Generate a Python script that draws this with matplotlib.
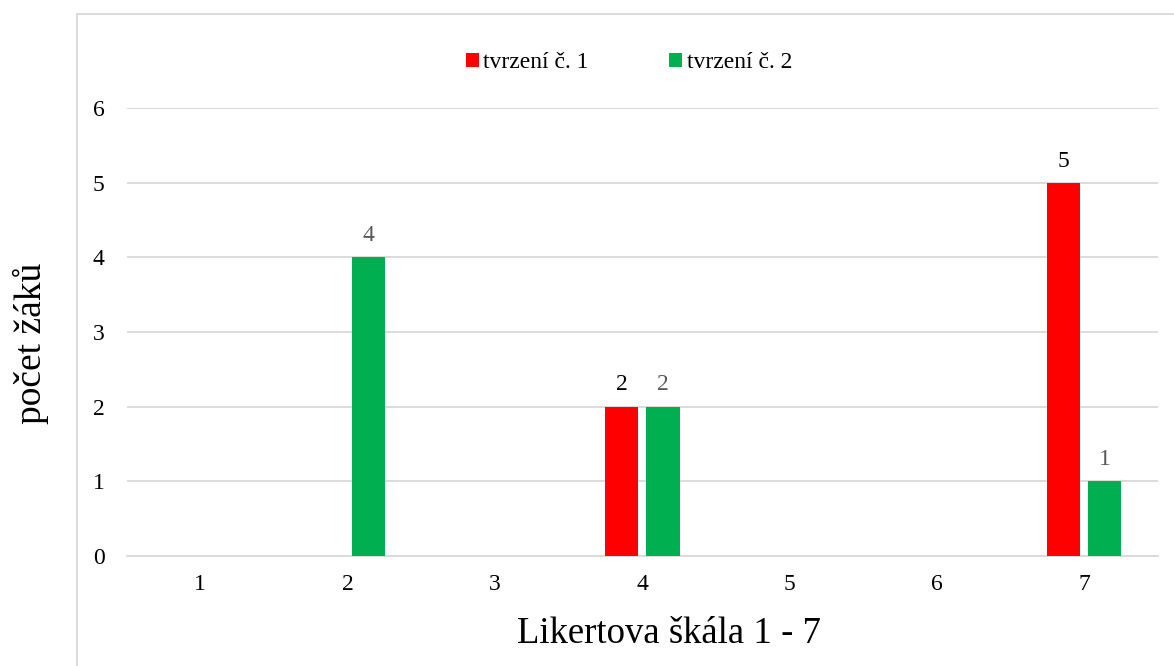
import matplotlib
matplotlib.use("Agg")
import matplotlib.pyplot as plt
from matplotlib.patches import Rectangle
import numpy as np

# Likert scale responses
categories = ["1", "2", "3", "4", "5", "6", "7"]
series_names = ["tvrzení č. 1", "tvrzení č. 2"]
values_s1 = [0, 0, 0, 2, 0, 0, 5]
values_s2 = [0, 4, 0, 2, 0, 0, 1]
y_ticks = [0, 1, 2, 3, 4, 5, 6]

plt.rcParams["font.family"] = ["Liberation Serif", "DejaVu Serif"]

W, H = 1174, 666
fig = plt.figure(figsize=(W / 100, H / 100), dpi=100)

# chart frame
fig.patches.append(Rectangle((76.7 / W, -0.1), 1.2, 1.1 - 14 / H,
                             transform=fig.transFigure, fill=False,
                             edgecolor="#d9d9d9", linewidth=1.3))

ax = fig.add_axes([126.7 / W, (H - 555.7) / H, 1031 / W, 447.4 / H])

x = np.arange(len(categories))
bw = 0.226
off = 0.1405
red, green = "#ff0000", "#00b050"

b1 = ax.bar(x - off, values_s1, bw, color=red, label=series_names[0], zorder=3)
b2 = ax.bar(x + off, values_s2, bw, color=green, label=series_names[1], zorder=3)

fs = 17
for xi, v in zip(x, values_s1):
    if v > 0:
        ax.annotate(str(v), (xi - off, v), xytext=(0, 8), textcoords="offset points",
                    ha="center", va="bottom", fontsize=fs, color="black")
for xi, v in zip(x, values_s2):
    if v > 0:
        ax.annotate(str(v), (xi + off, v), xytext=(0, 8), textcoords="offset points",
                    ha="center", va="bottom", fontsize=fs, color="#595959")

ax.set_xlim(-0.5, len(categories) - 0.5)
ax.set_ylim(0, 6)
ax.set_yticks(y_ticks)
ax.set_xticks(x)
ax.set_xticklabels(categories)
ax.tick_params(axis="both", length=0, labelsize=fs, colors="black")
ax.tick_params(axis="x", pad=13)
ax.tick_params(axis="y", pad=16)
ax.grid(axis="y", color="#d9d9d9", linewidth=1.3, zorder=0)
for s in ["top", "right", "left"]:
    ax.spines[s].set_visible(False)
ax.spines["bottom"].set_color("#d9d9d9")
ax.spines["bottom"].set_linewidth(1.3)

# axis titles
fig.text(669 / W, 1 - 643 / H, "Likertova škála 1 - 7", fontsize=26.5,
         ha="center", va="baseline")
fig.text(31 / W, 1 - 343 / H, "počet žáků", rotation=90, fontsize=27,
         ha="center", va="center")

ax.legend(loc="center", bbox_to_anchor=(629 / W, 1 - 63 / H),
          bbox_transform=fig.transFigure, ncol=2, frameon=False,
          fontsize=fs, handlelength=0.55, handleheight=0.55,
          handletextpad=0.2, columnspacing=3.4)

fig.savefig("out.png", dpi=100)
